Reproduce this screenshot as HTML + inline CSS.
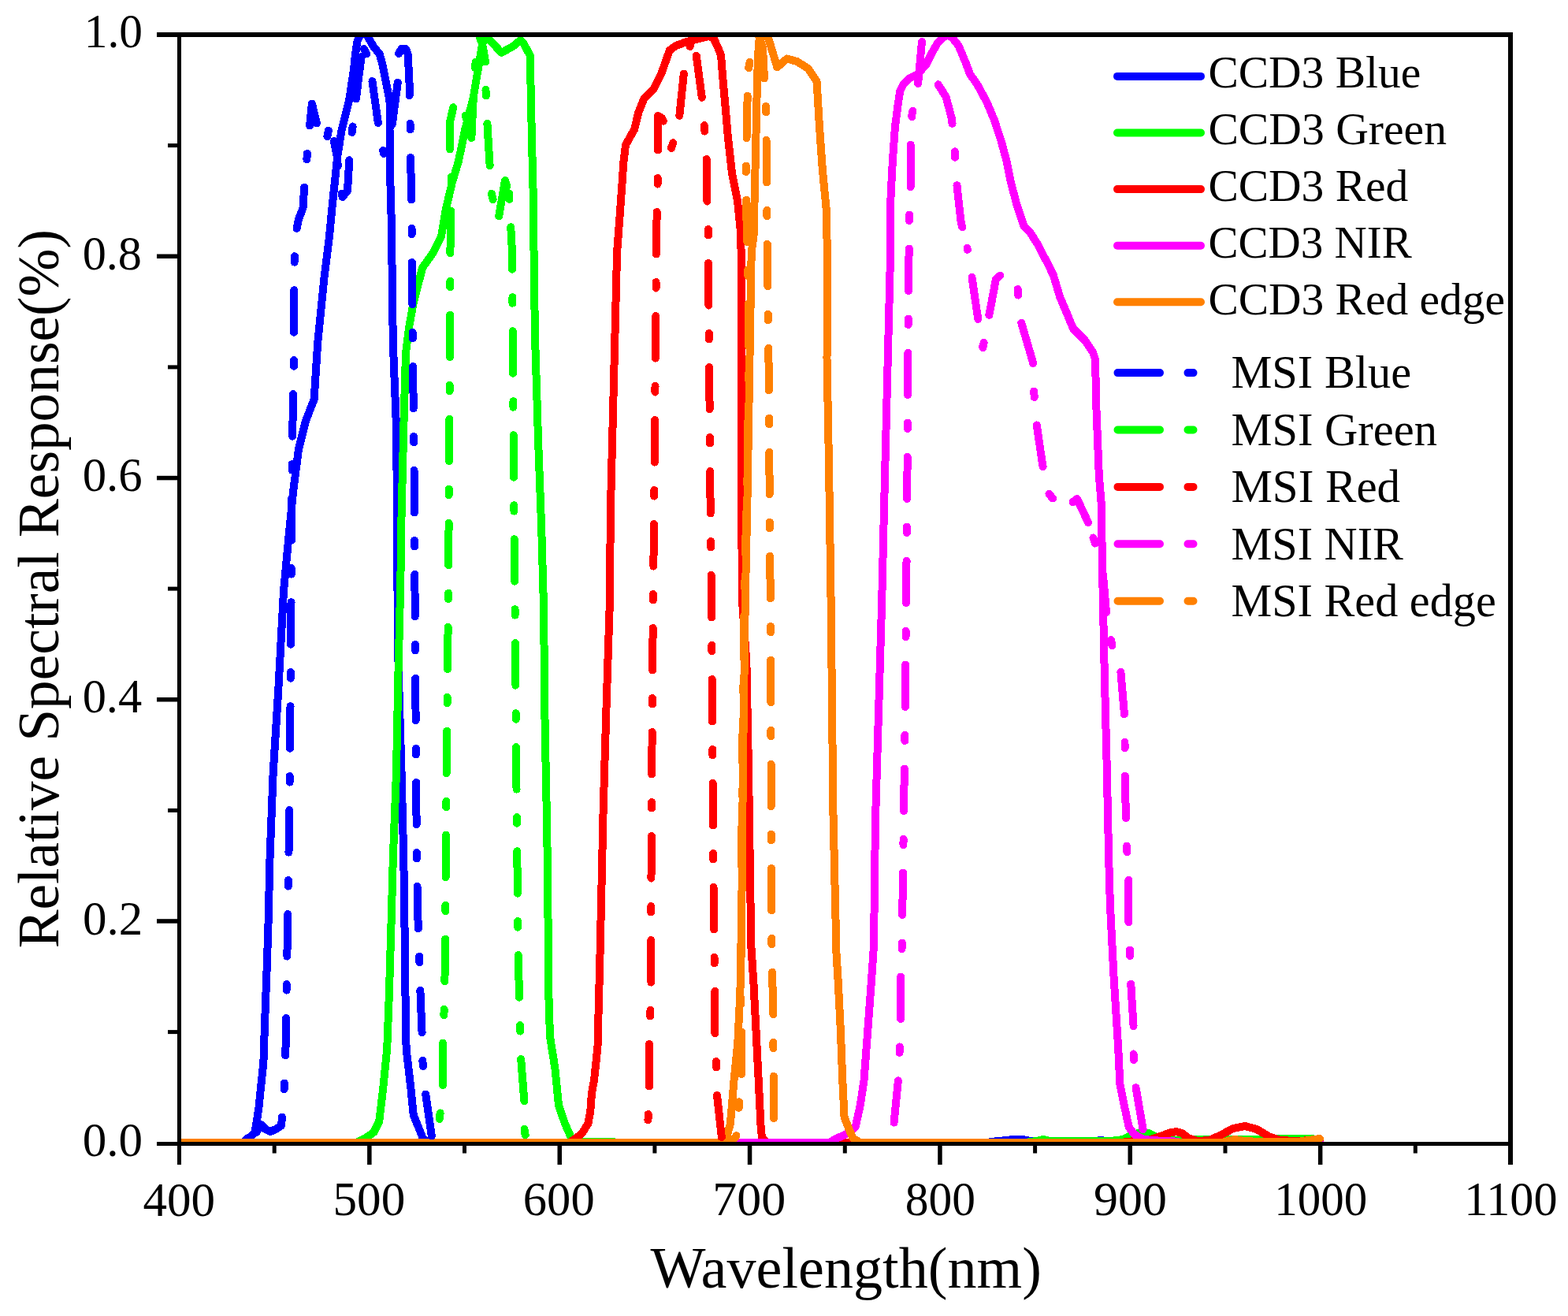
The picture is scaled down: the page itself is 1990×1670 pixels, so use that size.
<!DOCTYPE html>
<html><head><meta charset="utf-8"><title>Relative Spectral Response</title>
<style>
html,body{margin:0;padding:0;background:#fff;}
body{width:1990px;height:1670px;overflow:hidden;}
svg{display:block;}
text{font-family:"Liberation Serif","Times New Roman",serif;fill:#000;}
</style></head>
<body>
<svg width="1990" height="1670" viewBox="0 0 1990 1670">
<rect width="1990" height="1670" fill="#fff"/>
<defs><clipPath id="pc"><rect x="227.5" y="44" width="1689.5" height="1407.5"/></clipPath></defs>
<g clip-path="url(#pc)" fill="none" stroke-width="10" stroke-linejoin="round" stroke-linecap="round" shape-rendering="crispEdges">
<path d="M227.5 1450.2L308.0 1450.2L314.0 1444.5L319.0 1442.0L323.5 1437.0L326.3 1420.0L328.5 1405.0L330.5 1385.0L334.4 1348.0L336.1 1297.0L338.6 1230.0L340.3 1180.0L342.5 1090.0L346.6 982.0L353.3 875.0L360.0 750.0L366.8 677.0L372.2 623.0L379.0 570.0L388.0 534.0L398.6 507.0L403.2 435.0L411.3 354.0L418.0 300.0L421.7 261.0L425.5 225.0L428.0 200.0L433.7 164.5L438.5 145.4L443.3 126.2L446.2 107.0L449.0 88.0L451.0 69.0L453.5 52.0L458.0 43.0L463.0 42.0L467.0 47.0L474.0 59.0L481.8 68.7L485.7 83.0L488.5 97.5L491.4 111.8L494.3 126.2L495.2 140.6L494.5 164.5L494.5 200.0L496.8 282.0L498.8 435.0L503.0 542.0L504.0 650.0L504.5 750.0L505.6 848.0L509.6 982.0L512.3 1090.0L513.7 1190.0L514.7 1281.0L515.6 1331.0L521.4 1381.0L524.8 1415.0L531.5 1431.5L536.5 1444.0L543.0 1450.2L1250.0 1450.2L1262.0 1448.5L1278.0 1447.0L1285.0 1446.0L1298.0 1446.0L1305.0 1447.5L1318.0 1447.5L1324.0 1446.5L1330.0 1447.5L1390.0 1448.0L1397.0 1447.0L1405.0 1448.0L1415.0 1450.2L1675.0 1450.2" stroke="#0000ff"/>
<path d="M227.5 1450.2L452.0 1450.2L464.4 1444.0L474.5 1436.6L481.2 1423.2L486.2 1381.2L491.2 1331.0L493.8 1264.0L496.3 1180.0L498.8 1090.0L502.9 982.5L505.6 848.0L508.3 740.0L509.6 650.0L512.3 542.5L515.0 448.0L519.0 416.0L524.2 387.0L536.0 340.0L549.5 321.0L560.0 300.0L565.6 267.0L573.7 232.0L581.8 205.0L586.0 185.0L590.0 165.0L595.5 144.0L600.7 124.0L604.0 104.0L607.4 84.0L611.0 62.0L614.0 49.0L616.0 46.0L622.0 51.5L636.5 66.8L650.8 59.0L660.5 51.0L665.0 56.0L673.0 71.0L673.5 107.0L675.0 178.7L676.8 250.6L677.7 335.0L679.0 427.7L683.2 562.4L687.2 670.0L690.0 770.0L691.6 921.6L694.3 1056.0L696.0 1210.0L696.6 1278.0L698.2 1316.8L704.4 1355.7L709.0 1402.4L716.9 1425.8L724.6 1443.0L732.0 1450.2L745.0 1448.5L775.0 1448.5L785.0 1450.2L1300.0 1450.2L1315.0 1448.0L1324.0 1446.0L1333.0 1448.0L1410.0 1448.0L1425.0 1446.0L1440.0 1439.0L1449.0 1437.0L1458.0 1438.0L1470.0 1444.0L1480.0 1446.5L1500.0 1447.0L1520.0 1446.0L1532.0 1446.5L1600.0 1446.0L1614.0 1445.0L1660.0 1445.0L1675.0 1446.0" stroke="#00ff00"/>
<path d="M227.5 1450.2L722.0 1450.2L730.9 1444.5L738.6 1438.2L746.4 1425.8L749.3 1410.0L751.0 1387.0L754.0 1371.0L757.3 1340.0L758.7 1325.0L759.7 1278.0L760.2 1262.0L761.8 1200.0L765.6 1029.0L769.6 895.0L773.7 770.0L775.0 643.0L777.7 535.5L780.4 427.7L783.1 320.0L787.0 268.6L791.4 205.7L794.0 184.0L805.0 164.4L810.3 142.8L817.5 124.8L830.0 112.3L839.0 94.3L849.8 63.8L857.0 58.4L871.4 53.0L885.8 49.4L900.0 46.0L905.4 48.0L911.0 60.0L915.0 70.0L918.0 107.0L921.0 140.0L923.5 170.0L929.0 220.0L936.0 255.0L940.0 295.0L941.0 335.0L940.7 428.0L940.7 562.0L941.5 697.0L942.5 770.0L947.4 841.0L950.0 975.5L953.3 1200.0L956.4 1247.0L959.6 1309.0L962.7 1371.0L965.8 1434.0L967.3 1444.5L974.0 1450.2L1420.0 1450.2L1440.0 1448.0L1460.0 1446.0L1475.0 1441.0L1485.0 1437.5L1493.0 1436.0L1500.0 1438.0L1508.0 1444.0L1520.0 1448.0L1535.0 1447.0L1550.0 1440.0L1565.0 1432.0L1580.0 1429.0L1595.0 1433.0L1610.0 1442.0L1625.0 1447.0L1645.0 1448.0L1665.0 1447.0L1675.0 1446.0" stroke="#ff0000"/>
<path d="M227.5 1450.2L1052.0 1450.2L1062.3 1444.4L1073.0 1439.7L1085.6 1430.4L1091.8 1402.3L1096.5 1371.2L1101.2 1309.0L1105.8 1246.7L1109.0 1200.0L1111.0 1040.0L1115.0 905.0L1119.0 770.0L1121.8 654.0L1124.5 546.0L1127.2 438.0L1129.9 330.0L1130.5 250.6L1132.3 214.6L1134.0 187.7L1136.0 160.7L1139.5 133.8L1142.2 115.8L1146.7 106.9L1153.9 99.7L1164.7 94.3L1175.4 81.7L1182.6 67.3L1189.8 54.8L1197.0 47.0L1203.0 45.0L1207.8 47.0L1216.8 58.4L1225.7 79.9L1231.1 94.3L1240.1 106.9L1252.7 130.2L1261.7 151.8L1270.6 178.7L1277.8 205.6L1283.2 232.6L1290.4 259.5L1299.4 286.5L1308.0 296.0L1317.0 310.0L1323.0 322.0L1330.0 335.0L1337.0 349.6L1345.2 377.0L1355.0 400.0L1362.0 417.0L1377.0 432.0L1387.0 447.0L1390.0 456.0L1391.5 520.3L1394.8 603.0L1397.8 640.0L1399.0 721.0L1401.8 856.0L1404.5 964.0L1407.2 1090.0L1408.9 1148.0L1413.5 1239.0L1419.2 1330.0L1421.4 1376.0L1428.3 1410.0L1432.8 1430.5L1439.7 1439.6L1452.0 1446.0L1470.0 1447.5L1488.0 1448.0L1500.0 1450.2L1675.0 1450.2" stroke="#ff00ff"/>
<path d="M227.5 1450.2L912.0 1450.2L922.2 1443.0L926.9 1426.0L931.5 1371.0L936.2 1325.0L939.3 1262.0L940.9 1200.0L942.9 976.0L945.8 760.0L948.3 643.0L951.0 482.0L953.7 320.0L956.5 300.0L958.5 215.0L960.5 125.0L962.0 71.0L964.0 45.0L972.0 45.0L975.5 49.4L986.3 85.3L998.8 74.5L1011.4 78.0L1025.8 87.0L1036.6 103.3L1040.0 160.8L1043.8 214.7L1049.0 268.6L1050.0 335.0L1049.5 455.0L1052.0 589.5L1054.7 770.0L1056.0 895.0L1057.4 1029.5L1061.5 1210.0L1063.8 1247.0L1066.9 1309.0L1069.3 1371.0L1071.6 1418.0L1077.8 1433.5L1082.5 1444.4L1092.0 1450.2L1550.0 1450.2L1560.0 1447.5L1567.0 1446.0L1580.0 1448.0L1600.0 1449.0L1650.0 1448.5L1668.0 1446.0L1675.0 1445.0" stroke="#ff8000"/>
<path d="M322.0 1442.0L326.0 1436.0L331.0 1427.0L337.0 1433.0L343.0 1436.0L350.0 1433.0L357.0 1428.5L360.4 1392.0L362.5 1330.0" stroke="#0000ff" stroke-dasharray="53.5 35.5 7.5 35.5" stroke-dashoffset="125.9"/>
<path d="M362.5 1330.0L364.6 1200.0L367.0 1050.0L368.5 900.0L369.5 767.0L370.5 600.0L372.0 503.0L373.0 466.0L373.5 334.0L375.5 296.0L379.0 278.0L384.5 264.0L386.0 240.0L389.4 201.6L392.6 164.0L395.9 131.6L402.3 157.4L410.4 181.0L415.0 175.0L419.0 155.0L428.0 200.0" stroke="#0000ff" stroke-dasharray="53.5 35.5 7.5 35.5" stroke-dashoffset="15.6"/>
<path d="M428.0 200.0L430.0 230.0L434.7 250.0L441.0 242.0L444.4 185.0L450.0 142.0L455.0 100.0L459.0 70.0L462.0 62.0" stroke="#0000ff" stroke-dasharray="53.5 35.5 7.5 35.5" stroke-dashoffset="85.9"/>
<path d="M462.0 62.0L466.0 70.0L472.0 100.0L481.0 164.0L487.0 195.0L497.0 164.0L505.0 103.0L505.5 78.0" stroke="#0000ff" stroke-dasharray="53.5 35.5 7.5 35.5" stroke-dashoffset="89.4"/>
<path d="M506.0 68.0L510.0 61.5L515.0 62.0L517.5 68.0L518.5 85.0L519.5 105.0L519.5 121.0" stroke="#0000ff"/>
<path d="M519.5 121.0L520.6 160.0L521.0 195.0L522.3 256.0" stroke="#0000ff" stroke-dasharray="53.5 35.5 7.5 35.5" stroke-dashoffset="53.0"/>
<path d="M522.3 256.0L522.8 330.0L524.0 450.0L525.6 600.0L526.5 750.0L527.5 900.0L529.0 1100.0L531.0 1190.0L532.3 1216.0L533.2 1252.0L535.7 1314.0L536.5 1348.0L539.9 1386.0L548.3 1445.0L553.0 1450.2" stroke="#0000ff" stroke-dasharray="53.5 35.5 7.5 35.5" stroke-dashoffset="55.1"/>
<path d="M549.0 1450.2L553.0 1450.2L555.0 1445.0L558.0 1418.0L562.0 1384.0L562.0 1321.0L563.5 1286.0L564.3 1251.0L565.0 1210.0L566.4 1000.0L569.0 760.0L570.0 590.0L571.0 450.0L571.4 320.0L572.5 265.0L573.0 230.0L571.0 191.0L571.0 155.0L576.0 133.0L583.0 126.0L592.0 150.0L598.0 182.0L600.0 140.0L602.0 100.0L605.0 60.0L608.0 46.0L612.0 55.0L616.0 78.0" stroke="#00ff00" stroke-dasharray="53.5 35.5 7.5 35.5" stroke-dashoffset="54.2"/>
<path d="M616.0 78.0L616.5 115.0L618.0 150.0L621.0 200.0L624.0 246.0L632.0 281.0L641.0 229.0L646.0 245.0" stroke="#00ff00" stroke-dasharray="53.5 35.5 7.5 35.5" stroke-dashoffset="53.0"/>
<path d="M646.0 245.0L648.0 283.0L650.0 320.0L651.0 450.0L652.0 600.0L653.5 770.0L655.5 1000.0L657.6 1210.0L660.0 1300.0L660.8 1339.0L665.5 1399.0L665.5 1435.0L669.0 1450.2" stroke="#00ff00" stroke-dasharray="53.5 35.5 7.5 35.5" stroke-dashoffset="88.7"/>
<path d="M814.0 1450.2L818.0 1450.2L820.0 1446.0L822.5 1420.0L824.0 1384.0L824.0 1323.0L825.3 1287.0L826.4 1250.0L826.2 1164.0L827.5 948.5L828.9 760.0L830.2 643.0L831.6 481.6L832.9 320.0L833.7 267.0L834.6 231.0L835.0 195.0L835.0 147.0L840.0 150.0L845.0 160.0L852.0 188.0L858.0 170.0L862.0 150.0L868.0 92.0L876.0 58.0" stroke="#ff0000" stroke-dasharray="53.5 35.5 7.5 35.5" stroke-dashoffset="55.7"/>
<path d="M876.0 58.0L883.0 65.0L891.0 125.0L894.0 161.0L896.6 197.0L897.5 258.0L899.0 292.0L899.0 330.0L900.3 481.6L901.6 643.0L903.0 760.0L904.3 948.5L905.7 1150.0L906.6 1217.0L907.4 1255.0L907.4 1315.0L909.0 1350.0L909.7 1387.0L916.0 1444.5L919.0 1450.2" stroke="#ff0000" stroke-dasharray="53.5 35.5 7.5 35.5" stroke-dashoffset="116.3"/>
<path d="M1120.0 1450.2L1125.0 1450.2L1130.0 1447.0L1134.0 1430.0L1140.0 1370.0L1141.6 1334.0L1143.2 1298.0L1143.2 1237.0L1144.7 1201.0L1146.9 1040.0L1148.8 905.0L1149.6 797.0L1150.1 761.5L1151.5 600.0L1152.3 465.0L1153.4 330.0L1153.9 311.0L1153.9 276.0L1155.7 240.0L1155.7 182.0L1157.5 145.0L1165.0 108.0L1170.0 53.0L1178.0 75.0" stroke="#ff00ff" stroke-dasharray="53.5 35.5 7.5 35.5" stroke-dashoffset="98.2"/>
<path d="M1178.0 75.0L1188.0 103.0L1200.6 123.0L1207.8 150.0L1211.4 184.0L1213.2 224.0L1219.5 281.0L1227.5 315.0" stroke="#ff00ff" stroke-dasharray="53.5 35.5 7.5 35.5" stroke-dashoffset="97.2"/>
<path d="M1227.5 315.0L1234.0 355.0L1242.0 410.0L1247.5 441.0L1254.0 407.0L1264.0 354.0L1275.0 345.0L1291.5 365.0L1294.0 402.0L1311.0 460.0L1312.2 497.0L1315.0 534.0L1323.0 589.0L1330.0 625.0L1348.0 647.0L1367.0 633.0L1381.0 663.0" stroke="#ff00ff" stroke-dasharray="53.5 35.5 7.5 35.5" stroke-dashoffset="94.6"/>
<path d="M1381.0 663.0L1390.0 690.0L1400.0 730.0L1405.0 788.0L1412.6 825.0L1422.0 848.0L1427.0 907.0L1427.5 942.0L1428.0 1000.0L1430.0 1074.0L1432.4 1110.0L1432.4 1171.0L1434.0 1206.0L1435.0 1244.0L1438.5 1301.0L1438.5 1337.0L1440.8 1376.0L1451.0 1435.0L1454.0 1450.2" stroke="#ff00ff" stroke-dasharray="53.5 35.5 7.5 35.5" stroke-dashoffset="68.5"/>
<path d="M924.0 1450.2L928.0 1450.2L934.6 1441.0L937.8 1404.0L941.0 1368.0L941.0 1309.0L940.0 1250.0L940.5 1200.0L942.0 976.0L944.5 760.0L948.5 600.0L950.0 500.0L950.0 400.0L949.0 330.0L947.5 280.0L946.8 215.0L948.0 150.0L949.5 90.0L955.0 60.0L963.0 46.0" stroke="#ff8000" stroke-dasharray="53.5 35.5 7.5 35.5" stroke-dashoffset="38.4"/>
<path d="M963.0 46.0L968.0 60.0L970.0 100.0L972.0 135.0L972.8 200.0L974.0 335.0L976.0 500.0L977.0 700.0L977.9 760.0L979.3 1200.0L981.4 1290.0L981.4 1325.0L982.0 1362.0L982.0 1423.0L986.0 1446.0L990.0 1450.2" stroke="#ff8000" stroke-dasharray="53.5 35.5 7.5 35.5" stroke-dashoffset="131.2"/>
</g>
<g fill="#000">
<rect x="199" y="41" width="1721" height="6"/>
<rect x="199" y="1449" width="1721" height="5"/>
<rect x="225" y="41" width="5" height="1437"/>
<rect x="1914" y="41" width="6" height="1437"/>
<rect x="199" y="1166.2" width="28" height="5.5"/>
<rect x="199" y="885.0" width="28" height="5.5"/>
<rect x="199" y="603.8" width="28" height="5.5"/>
<rect x="199" y="322.5" width="28" height="5.5"/>
<rect x="213" y="1307.1" width="14" height="5"/>
<rect x="213" y="1025.9" width="14" height="5"/>
<rect x="213" y="744.6" width="14" height="5"/>
<rect x="213" y="463.4" width="14" height="5"/>
<rect x="213" y="182.1" width="14" height="5"/>
<rect x="466.1" y="1452" width="5.5" height="26"/>
<rect x="707.5" y="1452" width="5.5" height="26"/>
<rect x="948.8" y="1452" width="5.5" height="26"/>
<rect x="1190.2" y="1452" width="5.5" height="26"/>
<rect x="1431.5" y="1452" width="5.5" height="26"/>
<rect x="1672.9" y="1452" width="5.5" height="26"/>
<rect x="345.7" y="1452" width="5" height="11.5"/>
<rect x="587.0" y="1452" width="5" height="11.5"/>
<rect x="828.4" y="1452" width="5" height="11.5"/>
<rect x="1069.8" y="1452" width="5" height="11.5"/>
<rect x="1311.1" y="1452" width="5" height="11.5"/>
<rect x="1552.5" y="1452" width="5" height="11.5"/>
<rect x="1793.8" y="1452" width="5" height="11.5"/>
</g>
<g fill="none" stroke-width="10" stroke-linecap="round">
<path d="M1418 96.9L1524 96.9" stroke="#0000ff"/>
<path d="M1418.5 473.1L1472 473.1M1507.5 473.1L1514.5 473.1" stroke="#0000ff"/>
<path d="M1418 168.5L1524 168.5" stroke="#00ff00"/>
<path d="M1418.5 545.5L1472 545.5M1507.5 545.5L1514.5 545.5" stroke="#00ff00"/>
<path d="M1418 240.1L1524 240.1" stroke="#ff0000"/>
<path d="M1418.5 617.9L1472 617.9M1507.5 617.9L1514.5 617.9" stroke="#ff0000"/>
<path d="M1418 311.7L1524 311.7" stroke="#ff00ff"/>
<path d="M1418.5 690.3L1472 690.3M1507.5 690.3L1514.5 690.3" stroke="#ff00ff"/>
<path d="M1418 383.3L1524 383.3" stroke="#ff8000"/>
<path d="M1418.5 762.7L1472 762.7M1507.5 762.7L1514.5 762.7" stroke="#ff8000"/>
</g>
<g>
<text id="x400" x="181.42" y="1542.75" font-size="62.0" textLength="91.64" lengthAdjust="spacingAndGlyphs">400</text>
<text id="x500" x="422.44" y="1542.25" font-size="62.0" textLength="91.82" lengthAdjust="spacingAndGlyphs">500</text>
<text id="x600" x="663.87" y="1542.25" font-size="62.0" textLength="90.78" lengthAdjust="spacingAndGlyphs">600</text>
<text id="x700" x="904.20" y="1542.25" font-size="62.0" textLength="93.00" lengthAdjust="spacingAndGlyphs">700</text>
<text id="x800" x="1148.71" y="1542.25" font-size="62.0" textLength="89.20" lengthAdjust="spacingAndGlyphs">800</text>
<text id="x900" x="1388.00" y="1542.25" font-size="62.0" textLength="92.90" lengthAdjust="spacingAndGlyphs">900</text>
<text id="x1000" x="1617.24" y="1542.25" font-size="62.0" textLength="117.96" lengthAdjust="spacingAndGlyphs">1000</text>
<text id="x1100" x="1858.36" y="1542.25" font-size="62.0" textLength="118.18" lengthAdjust="spacingAndGlyphs">1100</text>
<text id="y0" x="104.63" y="1466.80" font-size="62.0" textLength="76.33" lengthAdjust="spacingAndGlyphs">0.0</text>
<text id="y2" x="105.03" y="1185.70" font-size="62.0" textLength="76.21" lengthAdjust="spacingAndGlyphs">0.2</text>
<text id="y4" x="104.66" y="903.70" font-size="62.0" textLength="75.51" lengthAdjust="spacingAndGlyphs">0.4</text>
<text id="y6" x="104.64" y="622.70" font-size="62.0" textLength="76.01" lengthAdjust="spacingAndGlyphs">0.6</text>
<text id="y8" x="104.66" y="341.70" font-size="62.0" textLength="75.27" lengthAdjust="spacingAndGlyphs">0.8</text>
<text id="y10" x="106.84" y="60.30" font-size="62.0" textLength="74.24" lengthAdjust="spacingAndGlyphs">1.0</text>
<text id="lc0" x="1533.40" y="111.40" font-size="57.5" textLength="269.95" lengthAdjust="spacingAndGlyphs">CCD3 Blue</text>
<text id="lm0" x="1562.42" y="492.20" font-size="59.2" textLength="228.81" lengthAdjust="spacingAndGlyphs">MSI Blue</text>
<text id="lc1" x="1533.39" y="183.20" font-size="57.5" textLength="302.64" lengthAdjust="spacingAndGlyphs">CCD3 Green</text>
<text id="lm1" x="1562.41" y="564.65" font-size="59.2" textLength="261.61" lengthAdjust="spacingAndGlyphs">MSI Green</text>
<text id="lc2" x="1533.40" y="255.00" font-size="57.5" textLength="253.98" lengthAdjust="spacingAndGlyphs">CCD3 Red</text>
<text id="lm2" x="1562.40" y="637.10" font-size="59.2" textLength="214.70" lengthAdjust="spacingAndGlyphs">MSI Red</text>
<text id="lc3" x="1533.42" y="326.80" font-size="57.5" textLength="258.37" lengthAdjust="spacingAndGlyphs">CCD3 NIR</text>
<text id="lm3" x="1562.42" y="709.55" font-size="59.2" textLength="218.57" lengthAdjust="spacingAndGlyphs">MSI NIR</text>
<text id="lc4" x="1533.40" y="398.60" font-size="57.5" textLength="376.60" lengthAdjust="spacingAndGlyphs">CCD3 Red edge</text>
<text id="lm4" x="1562.42" y="782.00" font-size="59.2" textLength="336.37" lengthAdjust="spacingAndGlyphs">MSI Red edge</text>
<text id="xt" x="825.60" y="1634.10" font-size="74.5" textLength="496.25" lengthAdjust="spacingAndGlyphs">Wavelength(nm)</text>
<text id="yt" transform="translate(73.80 1203.37) rotate(-90)" x="0" y="0" font-size="74.5" textLength="912.34" lengthAdjust="spacingAndGlyphs">Relative Spectral Response(%)</text>
</g>
</svg>
</body></html>
